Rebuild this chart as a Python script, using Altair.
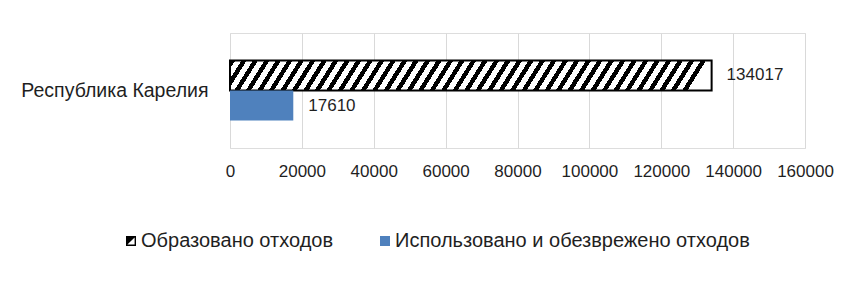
import altair as alt
import pandas as pd

regions = ["Республика Карелия"]
series = ["Образовано отходов", "Использовано и обезврежено отходов"]
values = [134017, 17610]
x_ticks = [0, 20000, 40000, 60000, 80000, 100000, 120000, 140000, 160000]

df = pd.DataFrame({
    "region": [regions[0]] * len(series),
    "series": series,
    "value": values,
})

FONT = "Liberation Sans"
TXT = "#1f1f1f"
BLUE = "#4F81BD"

# diagonal hatch approximated with a hard-stop linear gradient
N = 42
k = 0.039
stops = []
for i in range(N):
    a = i / N
    b = (i + 0.45) / N
    c = (i + 1) / N
    stops += [
        alt.GradientStop(offset=a, color="black"),
        alt.GradientStop(offset=b, color="black"),
        alt.GradientStop(offset=b, color="white"),
        alt.GradientStop(offset=min(c, 1.0), color="white"),
    ]
hatch = alt.LinearGradient(gradient="linear", stops=stops, x1=0, y1=0, x2=1, y2=k)

is_first = alt.datum.series == series[0]

y_enc = alt.Y("region:N", title=None,
              scale=alt.Scale(paddingInner=0.314, paddingOuter=0.314),
              axis=alt.Axis(ticks=False, domain=False, labelPadding=22,
                            labelFont=FONT, labelFontSize=19.5, labelColor=TXT,
                            labelLimit=400))
yoff = alt.YOffset("series:N", sort=series, scale=alt.Scale(paddingInner=0))
x_enc = alt.X("value:Q", title=None,
              scale=alt.Scale(domain=[0, 160000], nice=False),
              axis=alt.Axis(values=x_ticks, format="d", grid=True, gridColor="#D9D9D9",
                            domain=False, ticks=False, labelPadding=15,
                            labelFont=FONT, labelFontSize=17, labelColor=TXT,
                            labelFlush=False))

bars = alt.Chart(df).mark_bar().encode(
    x=x_enc,
    y=y_enc,
    yOffset=yoff,
    fill=alt.condition(is_first, alt.value(hatch), alt.value(BLUE)),
    stroke=alt.condition(is_first, alt.value("black"), alt.value("transparent")),
    strokeWidth=alt.condition(is_first, alt.value(2), alt.value(0)),
)

labels = alt.Chart(df).mark_text(align="left", baseline="middle", dx=15,
                                  font=FONT, fontSize=17, color=TXT).encode(
    x="value:Q",
    y="region:N",
    yOffset=alt.YOffset("series:N", sort=series),
    text=alt.Text("value:Q", format="d"),
)

legend_path = ("M-1,-1H1V1H-1Z"
               "M-0.72,-0.72V0.72H0.72V-0.72Z"
               "M-0.72,-0.72H0.72L-0.72,0.72Z")

leg = alt.Legend(title=None, orient="none", legendX=-109, legendY=198,
                 direction="horizontal", symbolSize=100, symbolOpacity=1,
                 symbolStrokeWidth=0, labelFont=FONT, labelFontSize=20,
                 labelColor=TXT, labelOffset=0, columnPadding=41, padding=0,
                 labelLimit=500)

legend_layer = alt.Chart(df).mark_point(filled=True, opacity=0).encode(
    shape=alt.Shape("series:N", sort=series,
                    scale=alt.Scale(domain=series, range=[legend_path, "square"]),
                    legend=leg),
    fill=alt.Fill("series:N", sort=series,
                  scale=alt.Scale(domain=series, range=["black", BLUE]),
                  legend=leg),
)

chart = alt.layer(bars, labels, legend_layer).properties(
    width=575, height=115,
    autosize=alt.AutoSizeParams(type="none"),
    padding={"left": 222, "top": 25, "right": 40, "bottom": 152},
).configure_view(stroke=None).configure(background="white")

chart.save("out.html", embed_options={"renderer": "svg", "actions": False})
